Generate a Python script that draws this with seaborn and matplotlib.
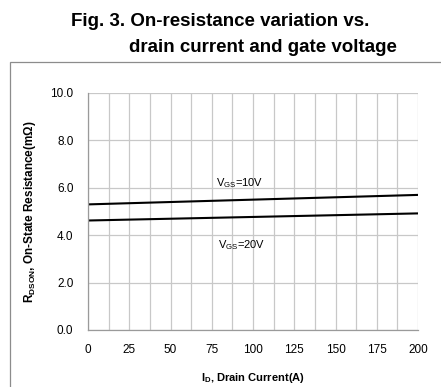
import matplotlib
matplotlib.use('Agg')
import matplotlib.pyplot as plt
import seaborn as sns
import pandas as pd
from matplotlib.patches import Rectangle

# values
drain_current = [0, 200]
rds_vgs10 = [5.30, 5.70]
rds_vgs20 = [4.62, 4.92]
series_names = ['VGS=10V', 'VGS=20V']
x_ticks = [0, 25, 50, 75, 100, 125, 150, 175, 200]
y_ticks = [0.0, 2.0, 4.0, 6.0, 8.0, 10.0]

df = pd.DataFrame({
    'ID': drain_current * 2,
    'RDS': rds_vgs10 + rds_vgs20,
    'Vgs': [series_names[0]] * 2 + [series_names[1]] * 2,
})

sns.set_style('white', {'text.color': 'black', 'axes.labelcolor': 'black',
                        'xtick.color': 'black', 'ytick.color': 'black'})
plt.rcParams['font.family'] = ['Liberation Sans', 'DejaVu Sans']

fig = plt.figure(figsize=(4.41, 3.87), dpi=100)

# outer frame of the chart area
fig.patches.append(Rectangle((10 / 441, -0.05), 1.2, 1 - 62 / 387 + 0.05,
                             transform=fig.transFigure, fill=False,
                             edgecolor='#8c8c8c', linewidth=0.9))

fig.text(220 / 441, 1 - 21 / 387, 'Fig. 3. On-resistance variation vs.',
         ha='center', va='center', fontsize=13.5, fontweight='bold')
fig.text(263 / 441, 1 - 47 / 387, 'drain current and gate voltage',
         ha='center', va='center', fontsize=13.5, fontweight='bold')

ax = fig.add_axes([88 / 441, 1 - 330 / 387, 330 / 441, 237 / 387])
sns.lineplot(data=df, x='ID', y='RDS', hue='Vgs', palette=['black', 'black'],
             linewidth=1.5, legend=False, ax=ax)

ax.set_xlim(0, 200)
ax.set_ylim(0, 10)
ax.set_xticks(x_ticks)
ax.set_xticks([12.5 + 25 * i for i in range(8)], minor=True)
ax.set_yticks(y_ticks)
ax.set_yticklabels([f'{v:.1f}' for v in y_ticks])
ax.grid(True, which='both', color='#c8c8c8', linewidth=0.9)
ax.set_axisbelow(True)
for side in ['top', 'right']:
    ax.spines[side].set_visible(False)
for side in ['left', 'bottom']:
    ax.spines[side].set_color('#9a9a9a')
    ax.spines[side].set_linewidth(0.9)
ax.tick_params(axis='both', which='major', direction='out', length=4,
               color='#9a9a9a', labelsize=8.5, labelcolor='black')
ax.tick_params(axis='both', which='minor', length=0)
ax.tick_params(axis='y', pad=6.5)
ax.tick_params(axis='x', pad=6)

ax.set_xlabel(r'I$_{\mathregular{D}}$, Drain Current(A)', fontsize=8,
              fontweight='bold', labelpad=11)
ax.set_ylabel(r'R$_{\mathregular{DSON}}$, On-State Resistance(m$\mathregular{\Omega}$)',
              fontsize=8.5, fontweight='bold', labelpad=8.5)

ax.text(92, 6.2, r'V$_{\mathregular{GS}}$=10V', ha='center', va='center', fontsize=8)
ax.text(93, 3.6, r'V$_{\mathregular{GS}}$=20V', ha='center', va='center', fontsize=8)

fig.savefig('out.png', dpi=100)
